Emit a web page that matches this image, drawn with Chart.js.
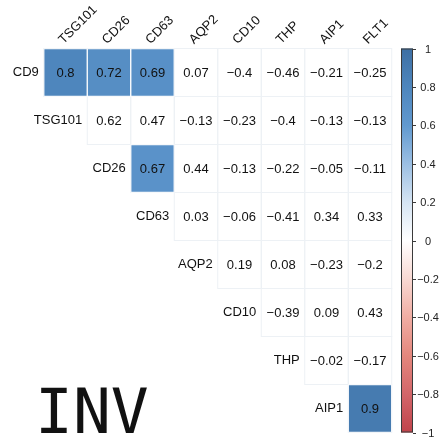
<!DOCTYPE html>
<html>
<head>
<meta charset="utf-8">
<script src="https://cdn.jsdelivr.net/npm/chart.js@4"></script>
<style>
  html, body { margin: 0; padding: 0; background: #fff; }
  #wrap { position: relative; width: 440px; height: 448px; }
</style>
</head>
<body>
<div id="wrap"><canvas id="c" width="440" height="448"></canvas></div>
<script>
// Marker labels: rows run down the diagonal, columns across the top
const rowLabels = ['CD9', 'TSG101', 'CD26', 'CD63', 'AQP2', 'CD10', 'THP', 'AIP1'];
const colLabels = ['TSG101', 'CD26', 'CD63', 'AQP2', 'CD10', 'THP', 'AIP1', 'FLT1'];

// Upper-triangle correlations, one array per row (starting at the diagonal column)
const corrCD9    = [0.8, 0.72, 0.69, 0.07, -0.4, -0.46, -0.21, -0.25];
const corrTSG101 = [0.62, 0.47, -0.13, -0.23, -0.4, -0.13, -0.13];
const corrCD26   = [0.67, 0.44, -0.13, -0.22, -0.05, -0.11];
const corrCD63   = [0.03, -0.06, -0.41, 0.34, 0.33];
const corrAQP2   = [0.19, 0.08, -0.23, -0.2];
const corrCD10   = [-0.39, 0.09, 0.43];
const corrTHP    = [-0.02, -0.17];
const corrAIP1   = [0.9];

// Cells shown as coloured squares: [row, column]
const filledCells = [[0, 0], [0, 1], [0, 2], [2, 2], [7, 7]];

// Colour bar ticks
const barTicks = [1, 0.8, 0.6, 0.4, 0.2, 0, -0.2, -0.4, -0.6, -0.8, -1];

// Diverging palette (value -> colour)
const paletteStops = [
  [-1, '#c0434b'], [-0.8, '#d3666a'], [-0.6, '#e4877d'], [-0.4, '#f0ada3'],
  [-0.2, '#f8d9d3'], [0, '#ffffff'], [0.2, '#d5e4f3'], [0.4, '#9bbfe3'],
  [0.6, '#6199cf'], [0.8, '#4e86bd'], [1, '#3e6fa3']
];

const corrRows = [corrCD9, corrTSG101, corrCD26, corrCD63, corrAQP2, corrCD10, corrTHP, corrAIP1];

function hexToRgb(h) {
  return [parseInt(h.slice(1, 3), 16), parseInt(h.slice(3, 5), 16), parseInt(h.slice(5, 7), 16)];
}
function colourFor(v) {
  for (let i = 0; i < paletteStops.length - 1; i++) {
    const [v0, c0] = paletteStops[i];
    const [v1, c1] = paletteStops[i + 1];
    if (v >= v0 && v <= v1) {
      const t = (v - v0) / (v1 - v0);
      const a = hexToRgb(c0), b = hexToRgb(c1);
      const m = a.map((x, k) => Math.round(x + (b[k] - x) * t));
      return `rgb(${m[0]},${m[1]},${m[2]})`;
    }
  }
  return paletteStops[paletteStops.length - 1][1];
}
function valueAt(r, c) {
  return corrRows[r][c - r];
}
function fmt(v) {
  return String(v).replace('-', '\u2212');
}

// One floating-bar dataset per row; each filled cell spans its row band
const datasets = rowLabels.map((name, r) => ({
  label: name,
  data: colLabels.map((_, c) =>
    filledCells.some(([fr, fc]) => fr === r && fc === c) ? [r - 0.5, r + 0.5] : null),
  backgroundColor: colLabels.map((_, c) => (c >= r ? colourFor(valueAt(r, c)) : 'transparent')),
  borderColor: '#ffffff',
  borderWidth: 1,
  borderSkipped: false,
  grouped: false,
  barPercentage: 1,
  categoryPercentage: 1
}));

const FONT = '"Liberation Sans", Arial, sans-serif';

const corrPlot = {
  id: 'corrPlot',
  beforeDatasetsDraw(chart) {
    const { ctx, scales: { x, y } } = chart;
    const cw = x.getPixelForValue(1) - x.getPixelForValue(0);
    const rh = y.getPixelForValue(1) - y.getPixelForValue(0);
    ctx.save();
    ctx.strokeStyle = '#edf1f5';
    ctx.lineWidth = 1;
    rowLabels.forEach((_, r) => {
      for (let c = r; c < colLabels.length; c++) {
        const cx = x.getPixelForValue(c), cy = y.getPixelForValue(r);
        ctx.strokeRect(cx - cw / 2, cy - rh / 2, cw, rh);
      }
    });
    ctx.restore();
  },
  afterDatasetsDraw(chart) {
    const { ctx, chartArea, scales: { x, y, cb } } = chart;
    const cw = x.getPixelForValue(1) - x.getPixelForValue(0);
    ctx.save();

    // correlation values
    ctx.fillStyle = '#111';
    ctx.font = `13px ${FONT}`;
    ctx.textAlign = 'center';
    ctx.textBaseline = 'middle';
    rowLabels.forEach((_, r) => {
      for (let c = r; c < colLabels.length; c++) {
        ctx.fillText(fmt(valueAt(r, c)), x.getPixelForValue(c), y.getPixelForValue(r) + 1);
      }
    });

    // row labels, to the left of each diagonal cell
    ctx.textAlign = 'right';
    rowLabels.forEach((name, r) => {
      ctx.fillText(name, x.getPixelForValue(r) - cw / 2 - 5, y.getPixelForValue(r));
    });

    // rotated column labels above the grid
    ctx.textAlign = 'left';
    ctx.textBaseline = 'alphabetic';
    colLabels.forEach((name, c) => {
      ctx.save();
      ctx.translate(x.getPixelForValue(c) - 2, chartArea.top - 4);
      ctx.rotate(-Math.PI / 4);
      ctx.fillText(name, 0, 0);
      ctx.restore();
    });

    // colour bar
    const bx0 = 401, bx1 = 413;
    const top = cb.getPixelForValue(1), bot = cb.getPixelForValue(-1);
    const grad = ctx.createLinearGradient(0, bot, 0, top);
    paletteStops.forEach(([v, col]) => grad.addColorStop((v + 1) / 2, col));
    ctx.fillStyle = grad;
    ctx.fillRect(bx0, top, bx1 - bx0, bot - top);
    ctx.strokeStyle = '#3a3a3a';
    ctx.lineWidth = 1;
    ctx.strokeRect(bx0 + 0.5, top + 0.5, bx1 - bx0 - 1, bot - top - 1);

    ctx.font = `11px ${FONT}`;
    ctx.fillStyle = '#222';
    ctx.textAlign = 'center';
    ctx.textBaseline = 'middle';
    barTicks.forEach(t => {
      const py = Math.round(cb.getPixelForValue(t)) + 0.5;
      ctx.beginPath();
      ctx.moveTo(bx1, py);
      ctx.lineTo(bx1 + 3, py);
      ctx.stroke();
      ctx.fillText(fmt(t), 428, py);
    });

    // panel tag
    ctx.font = '63px "DejaVu Sans Mono", monospace';
    ctx.fillStyle = '#111';
    ctx.textAlign = 'left';
    ctx.textBaseline = 'alphabetic';
    ctx.fillText('INV', 35, 433);

    ctx.restore();
  }
};

new Chart(document.getElementById('c'), {
  type: 'bar',
  data: { labels: colLabels, datasets },
  options: {
    responsive: false,
    animation: false,
    events: [],
    layout: { padding: { left: 43.75, right: 48.25, top: 48.5, bottom: 15.5 } },
    plugins: { legend: { display: false }, tooltip: { enabled: false } },
    scales: {
      x: { type: 'category', display: false, offset: true },
      y: { type: 'linear', display: false, reverse: true, min: -0.5, max: 7.5 },
      cb: { type: 'linear', axis: 'y', display: false, min: -1, max: 1 }
    }
  },
  plugins: [corrPlot]
});
</script>
</body>
</html>
